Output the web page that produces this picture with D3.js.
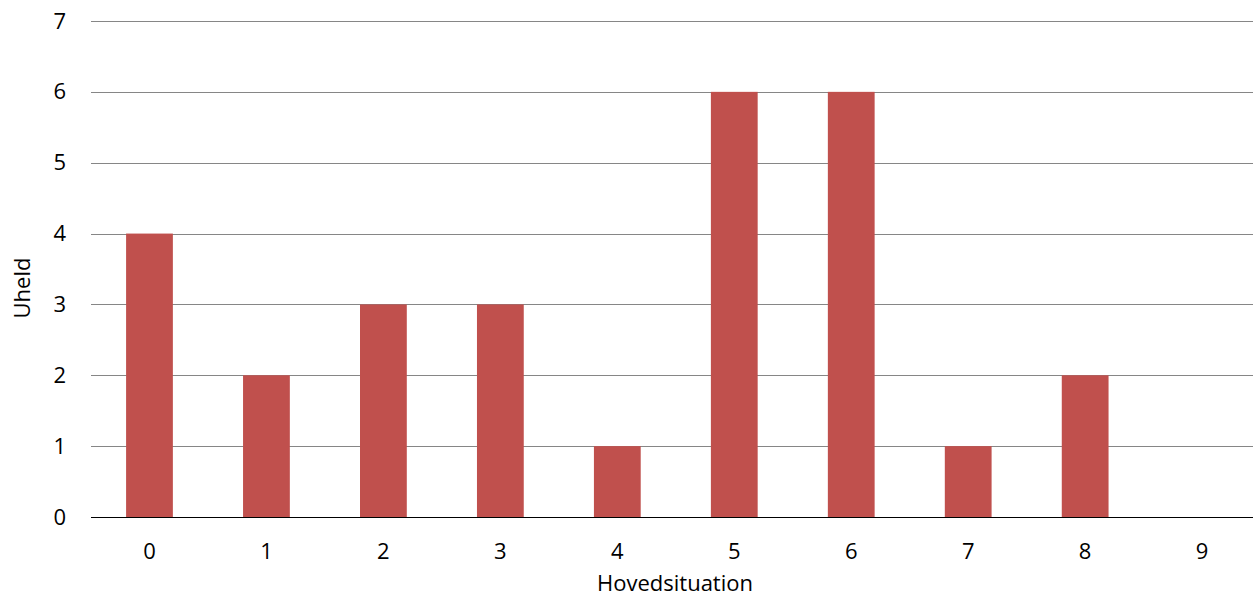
<!DOCTYPE html>
<html>
<head>
<meta charset="utf-8">
<script src="https://cdn.jsdelivr.net/npm/d3@7"></script>
<style>
  html, body { margin: 0; padding: 0; background: #fff; }
  svg { display: block; }
  text { font-family: "Open Sans", Lato, "Liberation Sans", sans-serif; fill: #000; }
</style>
</head>
<body>
<svg id="chart" width="1253" height="596"></svg>
<script>
const categories = ["0", "1", "2", "3", "4", "5", "6", "7", "8", "9"];
const values = [4, 2, 3, 3, 1, 6, 6, 1, 2, 0];
const yTicks = [0, 1, 2, 3, 4, 5, 6, 7];
const xTitle = "Hovedsituation";
const yTitle = "Uheld";

const W = 1253, H = 596;
const FONT = "'Open Sans', Lato, 'Liberation Sans', sans-serif";
const plotLeft = 91, plotRight = 1260.6, plotTop = 21, plotBottom = 517;
const svg = d3.select("#chart");
const fontSize = 22;

const x = d3.scaleBand()
  .domain(categories)
  .range([plotLeft, plotRight])
  .paddingInner(0.6)
  .paddingOuter(0.3);

const y = d3.scaleLinear()
  .domain([0, 7])
  .range([plotBottom, plotTop]);

// gridlines
svg.append("g")
  .selectAll("line")
  .data(yTicks.filter(d => d > 0))
  .join("line")
  .attr("x1", plotLeft)
  .attr("x2", W)
  .attr("y1", d => Math.round(y(d)) + 0.5)
  .attr("y2", d => Math.round(y(d)) + 0.5)
  .attr("stroke", "#868686")
  .attr("stroke-width", 1);

// bars
svg.append("g")
  .selectAll("rect")
  .data(values)
  .join("rect")
  .attr("x", (d, i) => x(categories[i]))
  .attr("width", x.bandwidth())
  .attr("y", d => y(d))
  .attr("height", d => y(0) - y(d))
  .attr("fill", "#C0504D");

// x axis
const xAxis = d3.axisBottom(x).tickSize(0).tickPadding(26);
const gx = svg.append("g")
  .attr("transform", `translate(0,${y(0)})`)
  .call(xAxis);
gx.select(".domain").remove();
gx.selectAll("text").attr("font-size", fontSize).attr("font-family", FONT).attr("fill", "#000");
svg.append("line")
  .attr("x1", plotLeft).attr("x2", W)
  .attr("y1", Math.round(y(0)) + 0.5).attr("y2", Math.round(y(0)) + 0.5)
  .attr("stroke", "#000").attr("stroke-width", 1.2);

// y axis
const yAxis = d3.axisLeft(y).tickValues(yTicks).tickSize(0).tickPadding(25).tickFormat(d3.format("d"));
const gy = svg.append("g")
  .attr("transform", `translate(${plotLeft},0)`)
  .call(yAxis);
gy.select(".domain").remove();
gy.selectAll("text").attr("font-size", fontSize).attr("font-family", FONT).attr("fill", "#000");

// titles
svg.append("text")
  .attr("x", 675)
  .attr("y", 591)
  .attr("text-anchor", "middle")
  .attr("font-size", fontSize)
  .attr("font-family", FONT)
  .text(xTitle);

svg.append("text")
  .attr("transform", `translate(30,288) rotate(-90)`)
  .attr("text-anchor", "middle")
  .attr("font-size", fontSize)
  .attr("font-family", FONT)
  .text(yTitle);
</script>
</body>
</html>
